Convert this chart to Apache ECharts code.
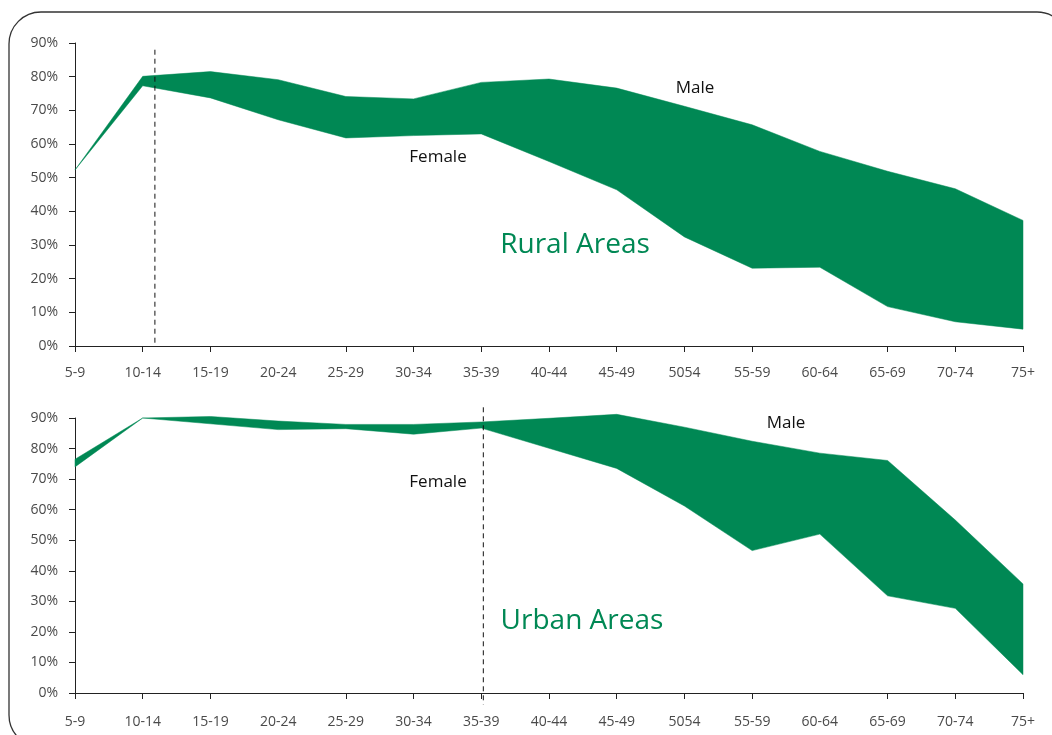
<!DOCTYPE html>
<html>
<head>
<meta charset="utf-8">
<script src="https://cdn.jsdelivr.net/npm/echarts@6/dist/echarts.min.js"></script>
<style>html,body{margin:0;padding:0;background:#fff;}#c{width:1052px;height:735px;}</style>
</head>
<body>
<div id="c"></div>
<script>
const categories = ['5-9','10-14','15-19','20-24','25-29','30-34','35-39','40-44','45-49','5054','55-59','60-64','65-69','70-74','75+'];
const yTicks = [0,10,20,30,40,50,60,70,80,90];
const ruralMale   = [52.3, 80.1, 81.5, 79.1, 74.1, 73.4, 78.3, 79.3, 76.6, 71.2, 65.7, 57.8, 51.9, 46.7, 37.3];
const ruralFemale = [52.3, 77.3, 73.7, 67.2, 61.8, 62.5, 63.0, 54.8, 46.4, 32.4, 23.1, 23.4, 11.7, 7.2, 5.0];
const urbanMale   = [76.5, 90.0, 90.5, 89.0, 87.9, 87.9, 88.7, 89.9, 91.2, 87.0, 82.4, 78.5, 76.1, 56.6, 35.7];
const urbanFemale = [74.0, 90.0, 88.1, 86.2, 86.5, 84.7, 86.7, 80.1, 73.5, 61.2, 46.6, 52.0, 31.8, 27.7, 6.0];
const tickIdx = [0,1,2,4,5,6,7,8,9,10,12,13,14];
const ruralMarker = [1.18, 88, 0];
const urbanMarker = [6.03, 93.5, -3.8];

const GREEN = '#008854';
const FONT = "'Open Sans', 'Noto Sans', sans-serif";

const chart = echarts.init(document.getElementById('c'), null, {renderer: 'canvas'});

function xAxis(gi, margin) {
  return {
    type: 'value', gridIndex: gi, min: 0, max: categories.length - 1, interval: 1,
    axisLine: {lineStyle: {color: '#222', width: 1}},
    axisTick: {show: true, length: 6, lineStyle: {color: '#222'}, customValues: tickIdx},
    axisLabel: {color: '#4a4a4a', fontSize: 14, fontFamily: FONT, margin: margin,
      formatter: v => categories[v] || ''},
    splitLine: {show: false}
  };
}
function yAxis(gi) {
  return {
    type: 'value', gridIndex: gi, min: 0, max: 90, interval: 10,
    axisLine: {show: true, lineStyle: {color: '#222', width: 1}},
    axisTick: {show: true, length: 6, lineStyle: {color: '#222'}},
    axisLabel: {color: '#4a4a4a', fontSize: 14, fontFamily: FONT, margin: 17,
      formatter: v => yTicks.indexOf(v) >= 0 ? v + '%' : ''},
    splitLine: {show: false}
  };
}
function band(gi, male, female) {
  return {
    type: 'custom', xAxisIndex: gi, yAxisIndex: gi,
    data: [[0, 0]],
    renderItem: function (params, api) {
      const pts = [];
      for (let i = 0; i < male.length; i++) pts.push(api.coord([i, male[i]]));
      for (let i = female.length - 1; i >= 0; i--) pts.push(api.coord([i, female[i]]));
      return {type: 'polygon', shape: {points: pts}, style: {fill: GREEN, stroke: GREEN, lineWidth: 0.5}};
    },
    silent: true
  };
}

chart.setOption({
  animation: false,
  backgroundColor: '#fff',
  grid: [
    {left: 75, right: 29, top: 43, height: 303},
    {left: 75, right: 29, top: 418, height: 275}
  ],
  xAxis: [xAxis(0, 20), xAxis(1, 22)],
  yAxis: [yAxis(0), yAxis(1)],
  series: [band(0, ruralMale, ruralFemale), band(1, urbanMale, urbanFemale)]
});

function dashLine(gi, m) {
  const a = chart.convertToPixel({gridIndex: gi}, [m[0], m[1]]);
  const b = chart.convertToPixel({gridIndex: gi}, [m[0], m[2]]);
  return {type: 'line', shape: {x1: a[0], y1: a[1], x2: b[0], y2: b[1]},
    style: {stroke: '#111', lineWidth: 1, lineDash: [5, 4]}, z: 10};
}
function label(text, x, y, size, color) {
  return {type: 'text', x: x, y: y, z: 10,
    style: {text: text, fontSize: size, fontFamily: FONT, fill: color, align: 'center', verticalAlign: 'middle'}};
}

chart.setOption({
  graphic: [
    {type: 'rect', shape: {x: 9, y: 12, width: 1060, height: 735, r: 32},
      style: {fill: 'none', stroke: '#333', lineWidth: 1.3}, z: 1},
    dashLine(0, ruralMarker),
    dashLine(1, urbanMarker),
    label('Male', 695, 88, 17, '#111'),
    label('Female', 438, 157, 17, '#111'),
    label('Rural Areas', 575, 245, 28, GREEN),
    label('Male', 786, 423, 17, '#111'),
    label('Female', 438, 482, 17, '#111'),
    label('Urban Areas', 582, 621, 28, GREEN)
  ]
});
</script>
</body>
</html>
